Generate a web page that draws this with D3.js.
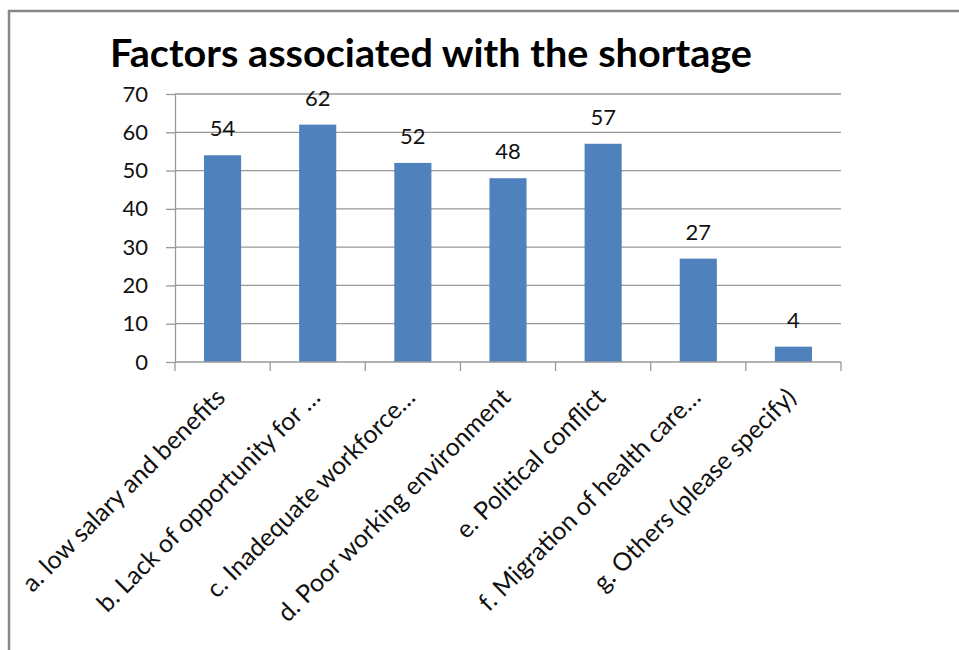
<!DOCTYPE html>
<html>
<head>
<meta charset="utf-8">
<script src="https://cdn.jsdelivr.net/npm/d3@7"></script>
<style>
  body { margin: 0; background: #fff; }
  svg { display: block; font-family: Lato, "Open Sans", sans-serif; }
</style>
</head>
<body>
<svg id="chart" width="959" height="650"></svg>
<script>
// chart data
const categories = [
  "a. low salary and benefits",
  "b. Lack of opportunity for \u2026",
  "c. Inadequate workforce\u2026",
  "d. Poor working environment",
  "e. Political conflict",
  "f. Migration of health care\u2026",
  "g. Others (please specify)"
];
const counts = [54, 62, 52, 48, 57, 27, 4];
const yTicks = [0, 10, 20, 30, 40, 50, 60, 70];
const title = "Factors associated with the shortage";

const svg = d3.select("#chart");
const width = 959, height = 650;

// frame (only top and left edges show in the picture)
svg.append("path")
    .attr("d", "M9,650 V11 H959")
    .attr("fill", "none")
    .attr("stroke", "#888")
    .attr("stroke-width", 2.5);

const margin = {left: 175, right: 118, top: 94, bottom: 288};
const x = d3.scaleBand()
    .domain(categories)
    .range([margin.left, width - margin.right])
    .paddingInner(0.61)
    .paddingOuter(0.305);
const y = d3.scaleLinear()
    .domain([0, 70])
    .range([height - margin.bottom, margin.top]);

// title
svg.append("text")
    .attr("x", 110)
    .attr("y", 67)
    .attr("font-size", 39)
    .attr("font-weight", "bold")
    .attr("fill", "#000")
    .attr("textLength", 642)
    .attr("lengthAdjust", "spacingAndGlyphs")
    .text(title);

// gridlines + y axis
const yAxis = svg.append("g")
    .attr("transform", `translate(${margin.left},0)`)
    .call(d3.axisLeft(y).tickValues(yTicks).tickSize(9).tickPadding(18)
      .tickSizeOuter(0));
yAxis.select(".domain").attr("stroke", "#999").attr("stroke-width", 1.3);
yAxis.selectAll(".tick line").attr("stroke", "#999").attr("stroke-width", 1.3);
yAxis.selectAll(".tick text")
    .attr("font-size", 22)
    .attr("font-family", "Lato, sans-serif")
    .attr("fill", "#111");

svg.append("g")
  .selectAll("line")
  .data(yTicks.filter(d => d > 0))
  .join("line")
    .attr("x1", margin.left)
    .attr("x2", width - margin.right)
    .attr("y1", d => y(d))
    .attr("y2", d => y(d))
    .attr("stroke", "#999")
    .attr("stroke-width", 1.3);

// bars
svg.append("g")
  .selectAll("rect")
  .data(counts)
  .join("rect")
    .attr("x", (d, i) => x(categories[i]))
    .attr("y", d => y(d))
    .attr("width", x.bandwidth())
    .attr("height", d => y(0) - y(d))
    .attr("fill", "#4F81BD");

// value labels
svg.append("g")
  .selectAll("text")
  .data(counts)
  .join("text")
    .attr("x", (d, i) => x(categories[i]) + x.bandwidth() / 2)
    .attr("y", d => y(d) - 19)
    .attr("text-anchor", "middle")
    .attr("font-size", 22)
    .attr("fill", "#111")
    .text(d => d);

// x axis with boundary ticks
const step = x.step();
const boundaries = d3.range(categories.length + 1).map(i => margin.left + i * step);
const xg = svg.append("g");
xg.append("line")
    .attr("x1", margin.left).attr("x2", width - margin.right)
    .attr("y1", y(0)).attr("y2", y(0))
    .attr("stroke", "#999").attr("stroke-width", 1.3);
xg.selectAll(".tk")
  .data(boundaries)
  .join("line")
    .attr("class", "tk")
    .attr("x1", d => d).attr("x2", d => d)
    .attr("y1", y(0)).attr("y2", y(0) + 9)
    .attr("stroke", "#999").attr("stroke-width", 1.3);

xg.selectAll(".lbl")
  .data(categories)
  .join("text")
    .attr("class", "lbl")
    .attr("transform", d => `translate(${x(d) + x.bandwidth() / 2 + 4},${y(0) + 37}) rotate(-45)`)
    .attr("text-anchor", "end")
    .attr("font-size", 25)
    .attr("fill", "#111")
    .text(d => d);
</script>
</body>
</html>
